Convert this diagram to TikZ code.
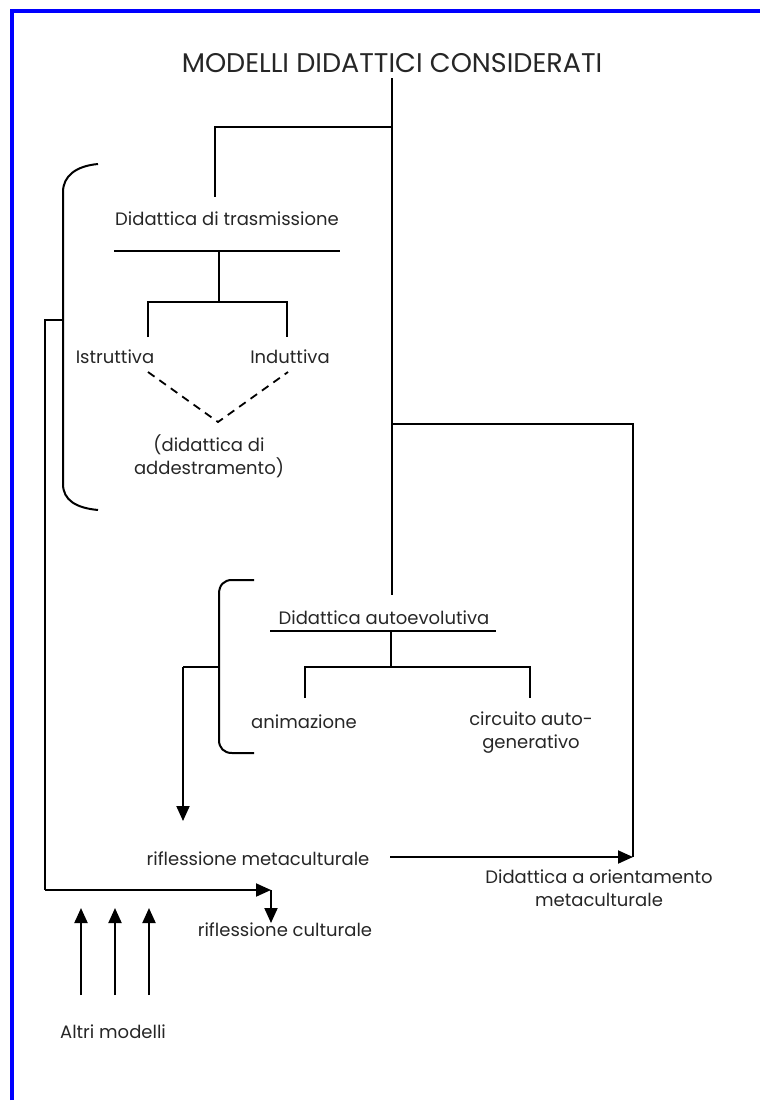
\documentclass[tikz,border=0pt]{standalone}
\usepackage{fontspec}
\setmainfont{Poppins}
\usetikzlibrary{arrows.meta}
\begin{document}
\begin{tikzpicture}[x=1pt,y=-1pt,
  lbl/.style={font=\fontsize{18}{23}\selectfont, inner sep=0pt, text=black!85, align=center},
  ttl/.style={font=\fontsize{27}{30}\selectfont, inner sep=0pt, text=black!85},
  conn/.style={line width=2pt, line join=miter},
  arr/.style={conn, -{Triangle[length=15pt,width=13pt]}},
  dashconn/.style={line width=1.8pt, dash pattern=on 8pt off 6pt},
  frame/.style={line width=3.5pt, draw={rgb,255:red,0;green,0;blue,255}}]
\useasboundingbox (0,0) rectangle (760,1108);
% frame
\draw[frame] (12,1100) -- (12,11) -- (760,11);
% text nodes
\node[ttl] (title) at (392,63) {MODELLI DIDATTICI CONSIDERATI};
\node[lbl] (dt) at (227,219) {Didattica di trasmissione};
\node[lbl] (istr) at (115,357) {Istruttiva};
\node[lbl] (indu) at (290,357) {Induttiva};
\node[lbl] (adde) at (209,456) {(didattica di\\addestramento)};
\node[lbl] (dae) at (384,618) {Didattica autoevolutiva};
\node[lbl] (anim) at (304,722) {animazione};
\node[lbl] (circ) at (531,733) {circuito auto-\\generativo};
\node[lbl] (rmeta) at (258,859) {riflessione metaculturale};
\node[lbl] (rcult) at (285,930) {riflessione culturale};
\node[lbl] (dom) at (599,888) {Didattica a orientamento\\metaculturale};
\node[lbl] (altri) at (113,1032) {Altri modelli};
% coordinates
\coordinate (t0) at (392,78);
\coordinate (j1) at (392,127);
\coordinate (j2) at (392,424);
\coordinate (t1) at (392,595);
\coordinate (a1) at (215,127);
\coordinate (a1e) at (215,197);
\coordinate (u1l) at (114,251);
\coordinate (u1r) at (340,251);
\coordinate (u1m) at (219,251);
\coordinate (b1m) at (219,302);
\coordinate (b1l) at (148,302);
\coordinate (b1r) at (287,302);
\coordinate (b1le) at (148,337);
\coordinate (b1re) at (287,337);
\coordinate (d1) at (148,372);
\coordinate (d2) at (218,422);
\coordinate (d3) at (288,372);
\coordinate (br1) at (63,320);
\coordinate (l1) at (45,320);
\coordinate (l2) at (45,890);
\coordinate (rc) at (271,890);
\coordinate (rce) at (271,923);
\coordinate (u2l) at (270,631);
\coordinate (u2r) at (496,631);
\coordinate (u2m) at (391,631);
\coordinate (b2m) at (391,667);
\coordinate (b2l) at (305,667);
\coordinate (b2r) at (530,667);
\coordinate (b2le) at (305,698);
\coordinate (b2re) at (530,698);
\coordinate (br2) at (219,667);
\coordinate (l3) at (183,667);
\coordinate (l3e) at (183,821);
\coordinate (rr) at (633,424);
\coordinate (rre) at (633,857);
\coordinate (ms) at (390,857);
% main tree
\draw[conn] (t0) -- (t1);
\draw[conn] (j1) -- (a1) -- (a1e);
\draw[conn] (u1l) -- (u1r);
\draw[conn] (u1m) -- (b1m);
\draw[conn] (b1le) -- (b1l) -- (b1r) -- (b1re);
\draw[dashconn] (d1) -- (d2) -- (d3);
% outer bracket
\draw[conn] (98,164) .. controls (76,166) and (63,176) .. (63,192) -- (63,484) .. controls (63,500) and (76,508) .. (98,510);
\draw[conn] (br1) -- (l1) -- (l2);
\draw[arr] (l2) -- (rc);
\draw[arr] (rc) -- (rce);
% second tree
\draw[conn] (u2l) -- (u2r);
\draw[conn] (u2m) -- (b2m);
\draw[conn] (b2le) -- (b2l) -- (b2r) -- (b2re);
% inner bracket
\draw[conn] (254,580) -- (232,580) .. controls (224,580) and (219,585) .. (219,594) -- (219,740) .. controls (219,748) and (224,753) .. (232,753) -- (254,753);
\draw[conn] (br2) -- (l3);
\draw[arr] (l3) -- (l3e);
% right branch
\draw[conn] (j2) -- (rr) -- (rre);
\draw[arr] (ms) -- (rre);
% altri modelli arrows
\foreach \x/\n in {81/p1,115/p2,149/p3}{
  \coordinate (\n s) at (\x,995);
  \coordinate (\n e) at (\x,908);
  \draw[arr] (\n s) -- (\n e);
}
\end{tikzpicture}
\end{document}
